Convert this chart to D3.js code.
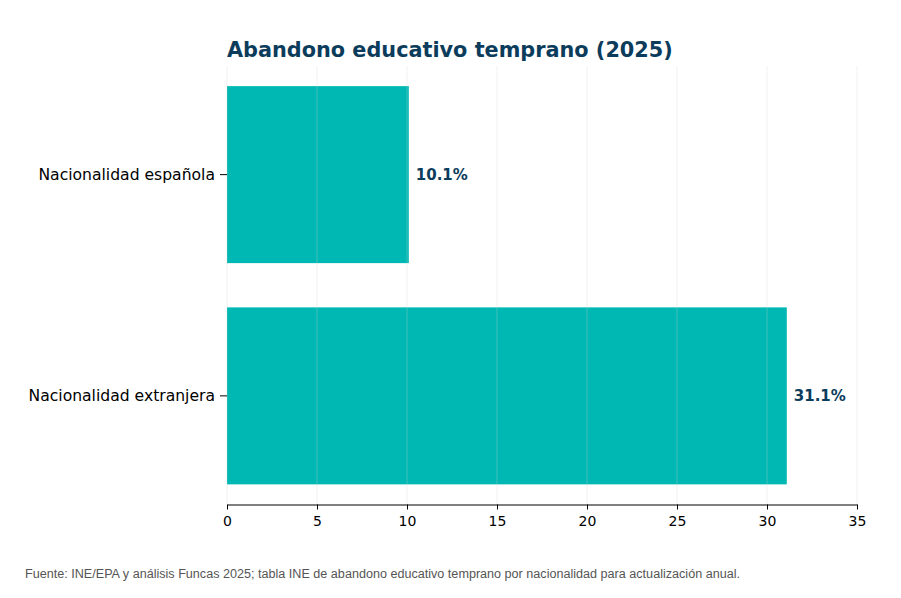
<!DOCTYPE html>
<html>
<head>
<meta charset="utf-8">
<script src="https://cdn.jsdelivr.net/npm/d3@7"></script>
<style>
  html, body { margin: 0; padding: 0; background: #fff; }
  svg { display: block; }
</style>
</head>
<body>
<svg id="chart" width="901" height="598"></svg>
<script>
const categories = ["Nacionalidad española", "Nacionalidad extranjera"];
const values = [10.1, 31.1];
const xTicks = [0, 5, 10, 15, 20, 25, 30, 35];
const title = "Abandono educativo temprano (2025)";
const source = "Fuente: INE/EPA y análisis Funcas 2025; tabla INE de abandono educativo temprano por nacionalidad para actualización anual.";

const svg = d3.select("#chart");
const margin = { left: 227, right: 44, top: 66, bottom: 93.5 };
const W = 901, H = 598;
const x = d3.scaleLinear().domain([0, 35]).range([margin.left, W - margin.right]);
const y = d3.scaleBand().domain(categories).range([margin.top, H - margin.bottom])
  .paddingInner(0.2).paddingOuter(0.091);

const navy = "#0c3c5c";
const font = "'DejaVu Sans', sans-serif";

// bars
svg.append("g").selectAll("rect").data(categories).join("rect")
  .attr("x", x(0))
  .attr("y", d => y(d))
  .attr("width", (d, i) => x(values[i]) - x(0))
  .attr("height", y.bandwidth())
  .attr("fill", "#00b8b3");

// grid (drawn over bars, faint)
svg.append("g").selectAll("line").data(xTicks).join("line")
  .attr("x1", d => x(d)).attr("x2", d => x(d))
  .attr("y1", margin.top).attr("y2", H - margin.bottom)
  .attr("stroke", "#cccccc").attr("stroke-opacity", 0.3).attr("stroke-width", 1);

// x axis
const xAxis = svg.append("g")
  .attr("transform", `translate(0,${H - margin.bottom})`)
  .call(d3.axisBottom(x).tickValues(xTicks).tickSize(5).tickPadding(6.5).tickSizeOuter(0));
xAxis.select(".domain").attr("stroke", "#000").attr("stroke-width", 1.1);
xAxis.selectAll(".tick line").attr("stroke", "#000");
xAxis.selectAll("text").attr("font-family", font).attr("font-size", 14).attr("fill", "#000");

// y axis
const yAxis = svg.append("g")
  .attr("transform", `translate(${margin.left},0)`)
  .call(d3.axisLeft(y).tickSize(7).tickPadding(5));
yAxis.select(".domain").remove();
yAxis.selectAll(".tick line").attr("stroke", "#000");
yAxis.selectAll("text").attr("font-family", font).attr("font-size", 15.6).attr("fill", "#000");

// value labels
svg.append("g").selectAll("text").data(categories).join("text")
  .attr("x", (d, i) => x(values[i]) + 7)
  .attr("y", d => y(d) + y.bandwidth() / 2)
  .attr("dy", "0.35em")
  .attr("font-family", font).attr("font-weight", "bold").attr("font-size", 15)
  .attr("fill", navy)
  .text((d, i) => values[i].toFixed(1) + "%");

// title
svg.append("text")
  .attr("x", margin.left).attr("y", 57)
  .attr("font-family", font).attr("font-weight", "bold").attr("font-size", 20.8)
  .attr("fill", navy)
  .text(title);

// source
svg.append("text")
  .attr("x", 25).attr("y", 578)
  .attr("font-family", "'Liberation Sans', Arial, sans-serif").attr("font-size", 12)
  .attr("fill", "#555")
  .attr("textLength", 715).attr("lengthAdjust", "spacingAndGlyphs")
  .text(source);
</script>
</body>
</html>
